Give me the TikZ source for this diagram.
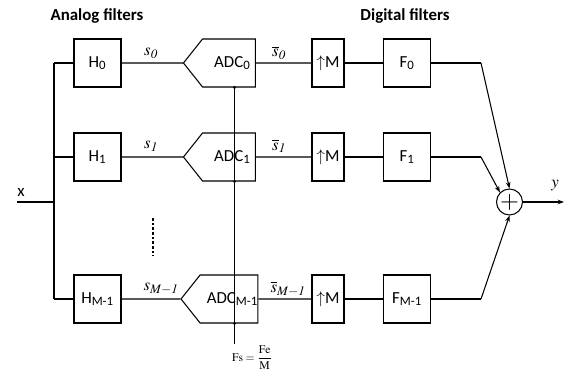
\documentclass[tikz,border=0pt]{standalone}
\usepackage{mathptmx}
\usepackage[no-math]{fontspec}
\setmainfont{Carlito}
\usetikzlibrary{shapes.symbols, arrows.meta, calc}

\begin{document}
\begin{tikzpicture}[x=0.03cm, y=-0.03cm, line width=0.9pt,
  filt/.style={rectangle, draw, minimum width=1.41cm, minimum height=1.44cm, inner sep=0pt, font=\Large},
  upsamp/.style={rectangle, draw, minimum width=0.96cm, minimum height=1.44cm, inner sep=0pt, font=\Large},
  adc/.style={signal, signal to=west, signal pointer angle=103, draw, minimum width=2.16cm, minimum height=1.44cm, inner sep=0pt, font=\Large},
  adder/.style={circle, draw, minimum size=0.78cm, inner sep=0pt},
  sig/.style={font=\Large},
  arr/.style={-{Stealth[length=5.5pt, width=4pt]}}]
  \useasboundingbox (0,0) rectangle (566,376);

  % titles
  \node[font=\Large\bfseries] (atitle) at (97,16) {Analog filters};
  \node[font=\Large\bfseries] (dtitle) at (405,16) {Digital filters};

  % analog filters
  \node[filt] (h0) at (97.5,63) {H\textsubscript{0}};
  \node[filt] (h1) at (97.5,157) {H\textsubscript{1}};
  \node[filt] (hM) at (97.5,299) {H\textsubscript{M-1}};

  % converters
  \node[adc] (adc0) at (229,63) {\hspace*{0.2cm}ADC\textsubscript{0}};
  \node[adc] (adc1) at (229,157) {\hspace*{0.2cm}ADC\textsubscript{1}};
  \node[adc] (adcM) at (229,299) {\hspace*{0.2cm}ADC\textsubscript{M-1}};

  % upsamplers
  \node[upsamp] (up0) at (328,63) {$\uparrow$M};
  \node[upsamp] (up1) at (328,157) {$\uparrow$M};
  \node[upsamp] (upM) at (328,299) {$\uparrow$M};

  % digital filters
  \node[filt] (f0) at (407,63) {F\textsubscript{0}};
  \node[filt] (f1) at (407,157) {F\textsubscript{1}};
  \node[filt] (fM) at (407,299) {F\textsubscript{M-1}};

  \node[adder] (sum) at (509.5,202) {\huge$+$};

  \coordinate (xin) at (17,202);
  \coordinate (split) at (54,202);
  \coordinate (bend) at (481,202);
  \coordinate (yout) at (564,202);
  \coordinate (fsend) at (234.5,344);

  % input and bus
  \node[sig] (xlab) at (21,192) {x};
  \draw (xin) -- (split);
  \draw (h0.west -| split) -- (hM.west -| split);
  \foreach \r in {0,1,M} {
    \draw (h\r.west -| split) -- (h\r);
    \draw (h\r) -- (adc\r);
    \draw (adc\r) -- (up\r);
    \draw (up\r) -- (f\r);
    \draw (f\r) -- (f\r.east -| bend);
  }
  \draw[dash pattern=on 2.2pt off 1.8pt] (153,218) -- (153,256);

  % signal labels
  \node[sig] (s0) at (151,53) {$s_{\mathit{0}}$};
  \node[sig] (s1) at (151,146) {$s_{\mathit{1}}$};
  \node[sig] (sM) at (161,289) {$s_{\mathit{M-1}}$};
  \node[sig] (sb0) at (279,53) {$\overline{s}_{\mathit{0}}$};
  \node[sig] (sb1) at (279,146) {$\overline{s}_{\mathit{1}}$};
  \node[sig] (sbM) at (288,289) {$\overline{s}_{\mathit{M-1}}$};

  % sampling clock
  \draw (adc0.south -| fsend) -- (fsend);
  \fill (adc0.south -| fsend) circle (1.4pt);
  \fill (adc1.south -| fsend) circle (1.4pt);
  \fill (adcM.south -| fsend) circle (1.4pt);
  \node[anchor=north west, inner sep=0pt] (fs) at ($(fsend)+(-3,1)$) {$\mathrm{Fs}={\displaystyle\frac{\mathrm{Fe}}{\mathrm{M}}}$};

  % summation
  \draw[arr] (f0.east -| bend) -- (sum.north);
  \draw[arr] (f1.east -| bend) -- (sum.north west);
  \draw[arr] (fM.east -| bend) -- (sum.south);
  \draw[arr] (sum) -- (yout);
  \node[sig] (ylab) at (555,186) {$y$};
\end{tikzpicture}
\end{document}
